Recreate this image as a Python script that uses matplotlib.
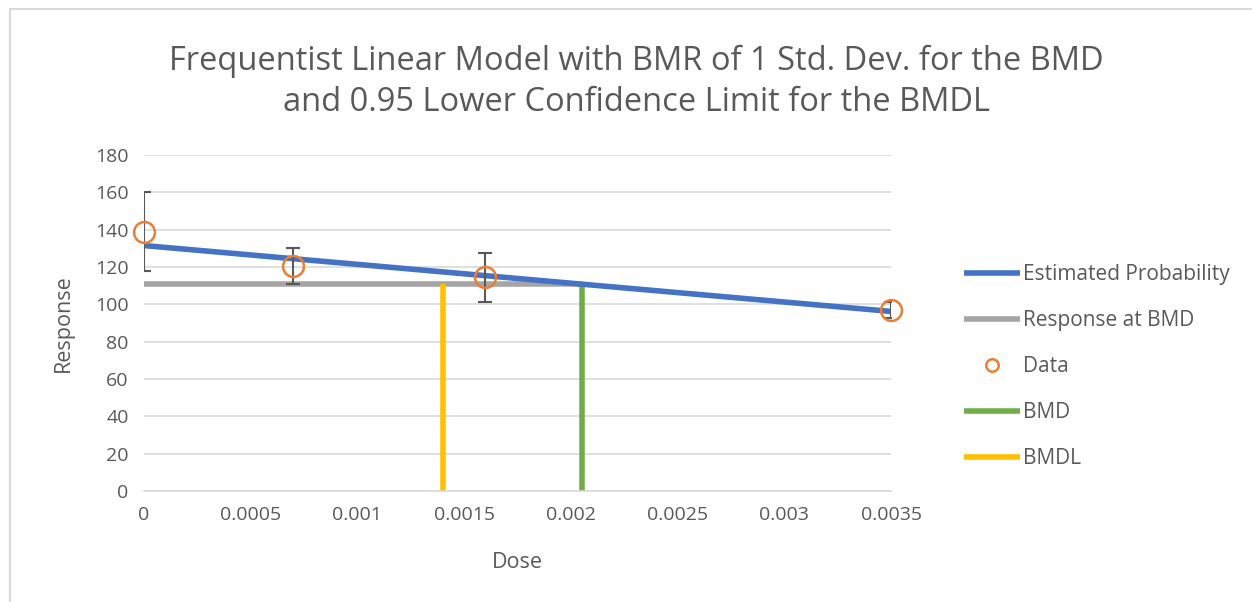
import matplotlib.pyplot as plt
from matplotlib.patches import Rectangle
import numpy as np

plt.rcParams['font.family'] = ['Open Sans', 'DejaVu Sans']

# data
dose = [0, 0.0007, 0.0016, 0.0035]
resp = [139, 120.5, 114.5, 97]
err = [21, 9.5, 13, 4.5]

fit_dose = [0, 0.0035]
fit_resp = [131.5, 96.2]

bmd = 0.00205
bmdl = 0.0014
bmd_resp = 111

txt = '#595959'

fig = plt.figure(figsize=(12.52, 6.02), dpi=100)
ax = fig.add_axes([0.115, 0.1844, 0.5967, 0.5581])

fig.patches.append(Rectangle((10/1252, -0.01), 1.1, (602-9)/602 + 0.01, transform=fig.transFigure,
                             fill=False, ec='#D9D9D9', lw=1.5))

ax.plot(fit_dose, fit_resp, color='#4472C4', lw=4, label='Estimated Probability', zorder=3, solid_capstyle='butt')
ax.plot([0, bmd], [bmd_resp, bmd_resp], color='#A5A5A5', lw=4, label='Response at BMD', zorder=2, solid_capstyle='butt')
ax.errorbar(dose, resp, yerr=err, fmt='none', ecolor='#595959', elinewidth=1.5, capsize=5, capthick=1.5, zorder=4)
ax.plot(dose, resp, 'o', mfc='none', mec='#ED7D31', ms=15, mew=1.8, label='Data', zorder=5, clip_on=False)
ax.plot([bmd, bmd], [0, bmd_resp], color='#70AD47', lw=4, label='BMD', zorder=2, solid_capstyle='butt')
ax.plot([bmdl, bmdl], [0, bmd_resp], color='#FFC000', lw=4, label='BMDL', zorder=2, solid_capstyle='butt')

ax.set_xlim(0, 0.0035)
ax.set_ylim(0, 180)
ax.set_yticks(np.arange(0, 181, 20))
xt = np.arange(0, 0.0036, 0.0005)
ax.set_xticks(xt)
ax.set_xticklabels(['0', '0.0005', '0.001', '0.0015', '0.002', '0.0025', '0.003', '0.0035'])
ax.grid(axis='y', color='#D9D9D9', lw=1.2)
ax.set_axisbelow(True)
for s in ['top', 'right', 'left']:
    ax.spines[s].set_visible(False)
ax.spines['bottom'].set_color('#D9D9D9')
ax.spines['bottom'].set_linewidth(1.2)
ax.tick_params(length=0, labelsize=14, labelcolor=txt, pad=11)

ax.set_xlabel('Dose', fontsize=15.5, color=txt, labelpad=20)
ax.set_ylabel('Response', fontsize=15.5, color=txt, labelpad=15)
fig.text(0.508, 0.864, 'Frequentist Linear Model with BMR of 1 Std. Dev. for the BMD\nand 0.95 Lower Confidence Limit for the BMDL',
         ha='center', va='center', fontsize=23.5, color=txt, linespacing=1.3)

ax.legend(loc='center left', bbox_to_anchor=(0.755, 0.391), bbox_transform=fig.transFigure,
          frameon=False, fontsize=15, labelcolor=txt, handlelength=2.7, handletextpad=0.15,
          labelspacing=1.2, markerscale=0.6)

plt.savefig('out.png', dpi=100)
